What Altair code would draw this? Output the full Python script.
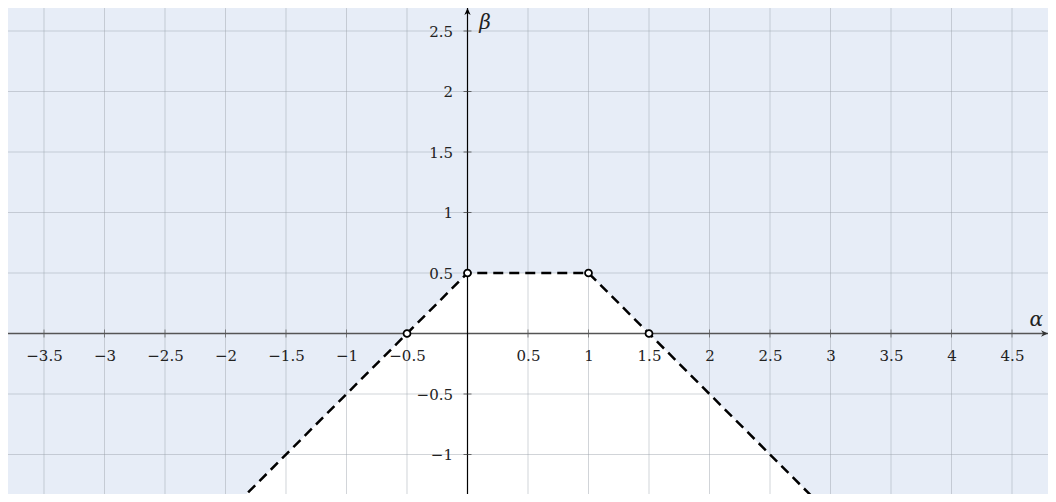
import altair as alt
import pandas as pd

# ---- data ----
line_x = [-2.0, -0.5, 0.0, 1.0, 1.5, 3.0]
line_y = [-1.5, 0.0, 0.5, 0.5, 0.0, -1.5]
pt_x = [-0.5, 0.0, 1.0, 1.5]
pt_y = [0.0, 0.5, 0.5, 0.0]
x_grid = [-3.5, -3, -2.5, -2, -1.5, -1, -0.5, 0, 0.5, 1, 1.5, 2, 2.5, 3, 3.5, 4, 4.5]
y_grid = [-1, -0.5, 0, 0.5, 1, 1.5, 2, 2.5]
x_labels = [v for v in x_grid if v != 0]
y_labels = [v for v in y_grid if v != 0]

X_DOM = [-3.7975, 4.7975]
Y_DOM = [-1.3264, 2.6901]
W, H = 1040, 486

BLUE = "#e7edf7"
FONT = "DejaVu Serif"

line_df = pd.DataFrame({"x": line_x, "y": line_y})
line_df["floor"] = Y_DOM[0] - 1
pt_df = pd.DataFrame({"x": pt_x, "y": pt_y})
xg_df = pd.DataFrame({"v": x_grid})
yg_df = pd.DataFrame({"v": y_grid})
xt_df = pd.DataFrame({"v": x_labels})
yt_df = pd.DataFrame({"v": y_labels})
zero_df = pd.DataFrame({"v": [0]})

xs = alt.Scale(domain=X_DOM, nice=False, zero=False)
ys = alt.Scale(domain=Y_DOM, nice=False, zero=False)

# pixel position of the origin inside the plot area
x0_px = (0 - X_DOM[0]) / (X_DOM[1] - X_DOM[0]) * W
y0_px = (Y_DOM[1] - 0) / (Y_DOM[1] - Y_DOM[0]) * H

x_axis = alt.Axis(values=x_labels, format="~g", title=None, grid=False, domain=False,
                  ticks=False, tickSize=0, labelPadding=15, offset=-(H - y0_px),
                  labelFont=FONT, labelFontSize=15, labelColor="#222222", zindex=1)
y_axis = alt.Axis(values=y_labels, format="~g", title=None, grid=False, domain=False,
                  ticks=False, tickSize=0, labelPadding=15, offset=-x0_px,
                  labelFont=FONT, labelFontSize=15, labelColor="#222222", zindex=1)


def X(f):
    return alt.X(f, scale=xs, axis=x_axis)


def Y(f):
    return alt.Y(f, scale=ys, axis=y_axis)


def XD(v):
    return alt.datum(v, scale=xs, axis=x_axis)


def YD(v):
    return alt.datum(v, scale=ys, axis=y_axis)


area = alt.Chart(line_df).mark_area(color="white", clip=True, opacity=1).encode(
    x=X("x:Q"), y=Y("y:Q"), y2="floor:Q",
)

xgrid = alt.Chart(xg_df).mark_rule(color="#9aa0a8", opacity=0.45, strokeWidth=1).encode(
    x=X("v:Q"))
ygrid = alt.Chart(yg_df).mark_rule(color="#9aa0a8", opacity=0.45, strokeWidth=1).encode(
    y=Y("v:Q"))

xaxis_line = alt.Chart(zero_df).mark_rule(color="#555555", strokeWidth=1.4).encode(y=Y("v:Q"))
yaxis_line = alt.Chart(zero_df).mark_rule(color="#000000", strokeWidth=1.2).encode(x=X("v:Q"))

xticks = alt.Chart(xt_df).mark_tick(orient="vertical", color="#555555", thickness=1, size=8).encode(
    x=X("v:Q"), y=YD(0))
yticks = alt.Chart(yt_df).mark_tick(orient="horizontal", color="#333333", thickness=1, size=8).encode(
    y=Y("v:Q"), x=XD(0))

dashed = alt.Chart(line_df).mark_line(color="black", strokeWidth=2.5, strokeDash=[10, 6], clip=True).encode(
    x=X("x:Q"), y=Y("y:Q"), order=alt.Order("x:Q"))

points = alt.Chart(pt_df).mark_point(shape="circle", filled=True, fill="white", stroke="black",
                                     strokeWidth=1.8, size=48, opacity=1).encode(
    x=X("x:Q"), y=Y("y:Q"))

arrow_right = alt.Chart(zero_df).mark_point(
    shape="M0,0 L-2,-0.9 L-1.4,0 L-2,0.9 Z", filled=True, color="#333333", size=49, opacity=1
).encode(x=XD(X_DOM[1]), y=Y("v:Q"))
arrow_up = alt.Chart(zero_df).mark_point(
    shape="M0,0 L-0.9,2 L0,1.4 L0.9,2 Z", filled=True, color="black", size=49, opacity=1
).encode(x=X("v:Q"), y=YD(Y_DOM[1]))

alpha_lbl = alt.Chart(pd.DataFrame({"t": ["α"]})).mark_text(
    font=FONT, fontSize=20, fontStyle="italic", color="#222222", align="center", baseline="middle"
).encode(x=XD(4.70), y=YD(0.115), text="t:N")
beta_lbl = alt.Chart(pd.DataFrame({"t": ["β"]})).mark_text(
    font=FONT, fontSize=20, fontStyle="italic", color="#222222", align="center", baseline="middle"
).encode(x=XD(0.145), y=YD(2.566), text="t:N")

chart = alt.layer(
    area, xgrid, ygrid, xaxis_line, yaxis_line, xticks, yticks,
    dashed, points, arrow_right, arrow_up, alpha_lbl, beta_lbl
).properties(
    width=W, height=H, padding=0, autosize=alt.AutoSizeParams(type="none"),
    background="white",
).configure_view(fill=BLUE, stroke=None)

chart.save("out.html", embed_options={"renderer": "svg", "actions": False})
